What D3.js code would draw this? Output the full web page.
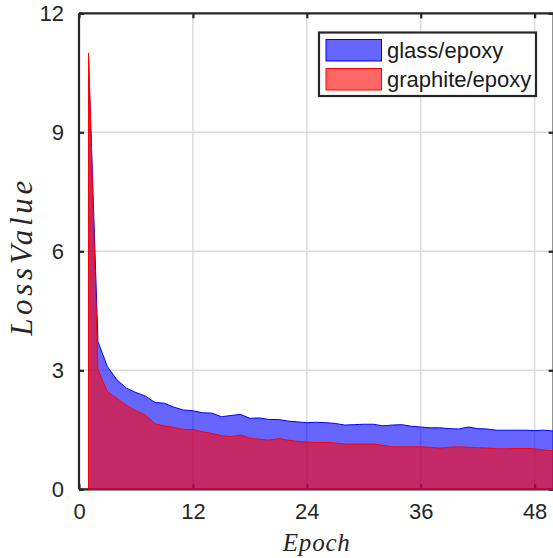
<!DOCTYPE html>
<html>
<head>
<meta charset="utf-8">
<script src="https://cdn.jsdelivr.net/npm/d3@7/dist/d3.min.js"></script>
<style>
html,body{margin:0;padding:0;background:#fff;}
svg{display:block;}
</style>
</head>
<body>
<script>
const epochs = [1,2,3,4,5,6,7,8,9,10,11,12,13,14,15,16,17,18,19,20,21,22,23,24,25,26,27,28,29,30,31,32,33,34,35,36,37,38,39,40,41,42,43,44,45,46,47,48,49,50];
const glassEpoxy = [10.9,3.72,3.09,2.76,2.55,2.44,2.35,2.19,2.17,2.07,2.00,1.98,1.93,1.92,1.83,1.86,1.89,1.79,1.80,1.76,1.76,1.72,1.70,1.68,1.69,1.68,1.66,1.62,1.63,1.64,1.64,1.60,1.62,1.63,1.59,1.57,1.55,1.55,1.53,1.52,1.57,1.53,1.52,1.49,1.49,1.49,1.49,1.48,1.49,1.47];
const graphiteEpoxy = [11.0,3.01,2.46,2.29,2.12,1.98,1.87,1.65,1.60,1.56,1.51,1.51,1.45,1.41,1.35,1.33,1.37,1.29,1.26,1.24,1.28,1.24,1.21,1.19,1.18,1.18,1.17,1.14,1.14,1.14,1.14,1.11,1.07,1.07,1.07,1.07,1.06,1.04,1.06,1.07,1.06,1.05,1.04,1.02,1.02,1.03,1.03,1.02,0.99,0.97];
const seriesNames = ["glass/epoxy","graphite/epoxy"];
const xTicks = [0,12,24,36,48];
const yTicks = [0,3,6,9,12];
const xDomain = [0,50];
const yDomain = [0,12];

const W = 553, H = 558;
const L = 79, R = 553.6, T = 13.3, B = 489.3;
const axisColor = "#262626";

const svg = d3.select("body").append("svg").attr("width", W).attr("height", H);
svg.append("rect").attr("width", W).attr("height", H).attr("fill", "#fff");

const x = d3.scaleLinear().domain(xDomain).range([L, R]);
const y = d3.scaleLinear().domain(yDomain).range([B, T]);

// grid
const grid = svg.append("g");
grid.selectAll("line.gx").data(xTicks.filter(d => d > xDomain[0])).join("line")
  .attr("x1", d => x(d)).attr("x2", d => x(d)).attr("y1", T).attr("y2", B)
  .attr("stroke", "#dcdcdc").attr("stroke-width", 1.6);
grid.selectAll("line.gy").data(yTicks.filter(d => d > yDomain[0] && d < yDomain[1])).join("line")
  .attr("x1", L).attr("x2", R).attr("y1", d => y(d)).attr("y2", d => y(d))
  .attr("stroke", "#dcdcdc").attr("stroke-width", 1.6);

// axes (bottom layer, under data)
const axB = svg.append("g").attr("transform", `translate(0,${B})`)
  .call(d3.axisBottom(x).tickValues(xTicks).tickSize(-5).tickPadding(14).tickFormat(d3.format("d")));
const axTop = svg.append("g").attr("transform", `translate(0,${T})`)
  .call(d3.axisTop(x).tickValues(xTicks).tickSize(-5).tickFormat(""));
const axL = svg.append("g").attr("transform", `translate(${L},0)`)
  .call(d3.axisLeft(y).tickValues(yTicks).tickSize(-5).tickPadding(15).tickFormat(d3.format("d")));
const axR = svg.append("g").attr("transform", `translate(${R},0)`)
  .call(d3.axisRight(y).tickValues(yTicks).tickSize(-5).tickFormat(""));
[axB, axTop, axL, axR].forEach(g => {
  g.select(".domain").attr("stroke", axisColor).attr("stroke-width", 2.2);
  g.selectAll(".tick line").attr("stroke", axisColor).attr("stroke-width", 2.2);
  g.selectAll(".tick text").attr("fill", axisColor)
    .style("font-family", "'Liberation Sans', Arial, sans-serif").style("font-size", "22px");
});
axB.selectAll(".domain").attr("d", `M${L},0H${R}`);
axTop.selectAll(".domain").attr("d", `M${L},0H${R}`);
axL.selectAll(".domain").attr("d", `M0,${B}V${T}`);
axR.selectAll(".domain").attr("d", `M0,${B}V${T}`);

// areas
const area = vals => d3.area()
  .x((d, i) => x(epochs[i]))
  .y0(y(0))
  .y1(d => y(d))(vals);

svg.append("path").attr("d", area(glassEpoxy))
  .attr("fill", "#0000ff").attr("fill-opacity", 0.6)
  .attr("stroke", "#0000ff").attr("stroke-width", 1);
svg.append("path").attr("d", area(graphiteEpoxy))
  .attr("fill", "#ff0000").attr("fill-opacity", 0.6)
  .attr("stroke", "#ff0000").attr("stroke-width", 1);

// axis labels
svg.append("text").attr("x", (L + R) / 2).attr("y", 551)
  .attr("text-anchor", "middle")
  .attr("textLength", 67).attr("lengthAdjust", "spacing")
  .style("font-family", "'Liberation Serif', 'Times New Roman', serif")
  .style("font-style", "italic").style("font-size", "25px")
  .attr("fill", axisColor).text("Epoch");

svg.append("text")
  .attr("transform", `translate(32,${(T + B) / 2 + 7}) rotate(-90)`)
  .attr("text-anchor", "middle")
  .attr("textLength", 155).attr("lengthAdjust", "spacing")
  .style("font-family", "'Liberation Serif', 'Times New Roman', serif")
  .style("font-style", "italic").style("font-size", "31px")
  .attr("fill", axisColor).text("LossValue");

// legend
const lg = svg.append("g");
lg.append("rect").attr("x", 319).attr("y", 32.5).attr("width", 217).attr("height", 63.5)
  .attr("fill", "#fff").attr("stroke", "#262626").attr("stroke-width", 2.2);
const legColors = ["#0000ff", "#ff0000"];
const legY = [39.5, 68.5];
seriesNames.forEach((name, i) => {
  lg.append("rect").attr("x", 326).attr("y", legY[i]).attr("width", 55.5).attr("height", 21.5)
    .attr("fill", legColors[i]).attr("fill-opacity", 0.6)
    .attr("stroke", legColors[i]).attr("stroke-width", 1);
  lg.append("text").attr("x", 387).attr("y", legY[i] + 18)
    .style("font-family", "'Liberation Sans', Arial, sans-serif").style("font-size", "22px")
    .attr("fill", "#1a1a1a").text(name);
});
</script>
</body>
</html>
